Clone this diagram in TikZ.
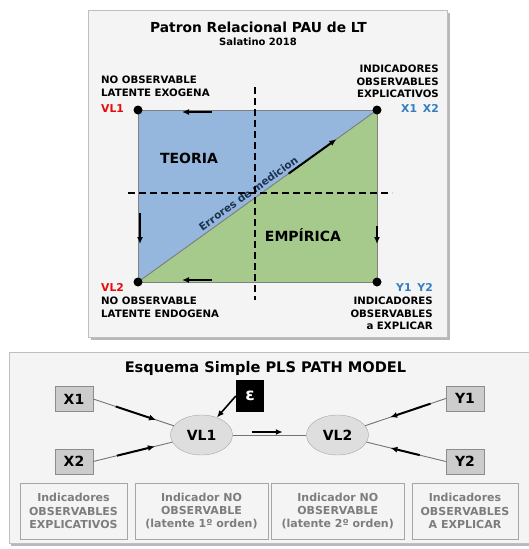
\documentclass[tikz,border=0pt]{standalone}
\usepackage{fontspec}
\setmainfont{DejaVu Sans}
\usetikzlibrary{arrows.meta,shapes.geometric}
\definecolor{teoria}{RGB}{149,183,222}
\definecolor{empirica}{RGB}{166,202,140}
\definecolor{panelbg}{RGB}{244,244,244}
\definecolor{vlred}{RGB}{232,10,10}
\definecolor{xblue}{RGB}{50,125,195}
\definecolor{errtxt}{RGB}{30,50,80}
\definecolor{txtgray}{RGB}{125,125,125}
\tikzset{
  panel/.style={draw=black!25,fill=panelbg,line width=1pt},
  sombra/.style={fill=black!28},
  lbl/.style={inner sep=0pt,font=\fontsize{10.2}{12.8}\selectfont\bfseries},
  vlabel/.style={inner sep=0pt,font=\fontsize{10.8}{12}\selectfont\bfseries},
  zona/.style={inner sep=0pt,font=\fontsize{14}{16}\selectfont\bfseries},
  flecha/.style={-{Latex[length=7pt,width=6pt]},line width=2pt},
  ind/.style={draw=black!45,fill=black!20,minimum width=38pt,minimum height=25pt,inner sep=0pt,font=\fontsize{14}{16}\selectfont\bfseries},
  latente/.style={ellipse,draw=black!35,fill=black!13,minimum width=62pt,minimum height=40pt,inner sep=0pt,font=\fontsize{14}{16}\selectfont\bfseries},
  epsbox/.style={fill=black,text=white,minimum width=28pt,minimum height=32pt,inner sep=0pt,font=\fontsize{17}{18}\selectfont\bfseries},
  enlace/.style={draw=black!55,line width=0.9pt},
  nota/.style={draw=black!35,fill=panelbg,text=txtgray,align=center,minimum height=56pt,inner sep=0pt,font=\fontsize{11}{13.3}\selectfont\bfseries}
}
\begin{document}
\begin{tikzpicture}[x=1pt,y=-1pt]
\useasboundingbox (0,0) rectangle (528,549);

% panel superior
\fill[sombra] (91,13) rectangle (450,340);
\draw[panel] (88,10) rectangle (447,337);
\node[font=\fontsize{13.8}{16}\selectfont\bfseries] (titulo) at (258.5,27) {Patron Relacional PAU de LT};
\node[font=\fontsize{10}{12}\selectfont\bfseries] (autor) at (258,42) {Salatino 2018};

\coordinate (exo) at (138,110);
\coordinate (expl) at (377,110);
\coordinate (endo) at (138,282);
\coordinate (aexpl) at (377,282);

\fill[teoria] (exo) -- (expl) -- (endo) -- cycle;
\fill[empirica] (expl) -- (aexpl) -- (endo) -- cycle;
\draw[black!50,line width=1pt] (exo) rectangle (aexpl);
\draw[black!50,line width=1pt] (endo) -- (expl)
  node[pos=0.48,sloped,above=3pt,inner sep=0pt,font=\fontsize{10.5}{12}\selectfont\bfseries,text=errtxt] (errores) {Errores de medicion}
  coordinate[pos=0.63] (d1) coordinate[pos=0.83] (d2);
\draw[flecha] (d1) -- (d2);

\draw[line width=1.5pt,dash pattern=on 7pt off 4pt] (255,87) -- (255,300);
\draw[line width=1.5pt,dash pattern=on 7pt off 4pt] (128,193) -- (392,193);

\draw[flecha] (212,112) -- (182,112);
\draw[flecha] (212,280) -- (182,280);
\draw[flecha] (140,213) -- (140,244);
\draw[flecha] (377,226) -- (377,244);

\foreach \c in {exo,expl,endo,aexpl}
  \fill (\c) circle (4.5);

\node[zona] (teo) at (189,158) {TEORIA};
\node[zona] (emp) at (303,235) {EMPÍRICA};

\node[lbl,align=left,anchor=north west] (exotxt) at (101,75.5) {NO OBSERVABLE\\LATENTE EXOGENA};
\node[vlabel,text=vlred,anchor=north west] (vl1txt) at (101,104) {VL1};
\node[lbl,align=right,anchor=north east] (expltxt) at (439,64.5) {INDICADORES\\OBSERVABLES\\EXPLICATIVOS};
\node[vlabel,text=xblue,anchor=north east] (xtxt) at (439,104) {X1\hspace{0.55em}X2};

\node[vlabel,text=vlred,anchor=north west] (vl2txt) at (101,283) {VL2};
\node[lbl,align=left,anchor=north west] (endotxt) at (101,296.5) {NO OBSERVABLE\\LATENTE ENDOGENA};
\node[vlabel,text=xblue,anchor=north east] (ytxt) at (433,283) {Y1\hspace{0.55em}Y2};
\node[lbl,align=right,anchor=north east] (aexpltxt) at (433,296.5) {INDICADORES\\OBSERVABLES\\a EXPLICAR};

% panel inferior
\fill[sombra] (11,355) rectangle (535,546);
\draw[panel] (9,352) rectangle (532,543);
\node[font=\fontsize{14.6}{16}\selectfont\bfseries] (esquema) at (265.5,368) {Esquema Simple PLS PATH MODEL};

\node[ind] (x1) at (74,399) {X1};
\node[ind] (x2) at (74,461.5) {X2};
\node[ind] (y1) at (465,398.5) {Y1};
\node[ind] (y2) at (465,461.5) {Y2};
\node[latente] (vl1) at (201.5,435) {VL1};
\node[latente] (vl2) at (337.5,435) {VL2};
\node[epsbox] (eps) at (250,396) {ε};

\draw[enlace] (x1.east) -- (vl1) coordinate[pos=0.28] (a1) coordinate[pos=0.78] (a2);
\draw[flecha] (a1) -- (a2);
\draw[enlace] (x2.east) -- (vl1) coordinate[pos=0.3] (b1) coordinate[pos=0.78] (b2);
\draw[flecha] (b1) -- (b2);
\draw[enlace] (vl1) -- (vl2) coordinate[pos=0.26] (c1) coordinate[pos=0.68] (c2);
\draw[flecha] ([yshift=3pt]c1) -- ([yshift=3pt]c2);
\draw[enlace] (y1.west) -- (vl2) coordinate[pos=0.19] (e1) coordinate[pos=0.69] (e2);
\draw[flecha] (e1) -- (e2);
\draw[enlace] (y2.west) -- (vl2) coordinate[pos=0.33] (f1) coordinate[pos=0.7] (f2);
\draw[flecha] (f1) -- (f2);
\draw[-{Latex[length=7pt,width=6pt]},line width=1.6pt] (eps.west) -- (vl1);

\node[nota,minimum width=107pt] (n1) at (73.5,511) {Indicadores\\OBSERVABLES\\EXPLICATIVOS};
\node[nota,minimum width=133pt] (n2) at (201.5,511) {Indicador NO\\OBSERVABLE\\(latente 1º orden)};
\node[nota,minimum width=132.5pt] (n3) at (337.75,511) {Indicador NO\\OBSERVABLE\\(latente 2º orden)};
\node[nota,minimum width=106.5pt] (n4) at (465,511) {Indicadores\\OBSERVABLES\\A EXPLICAR};
\end{tikzpicture}
\end{document}
